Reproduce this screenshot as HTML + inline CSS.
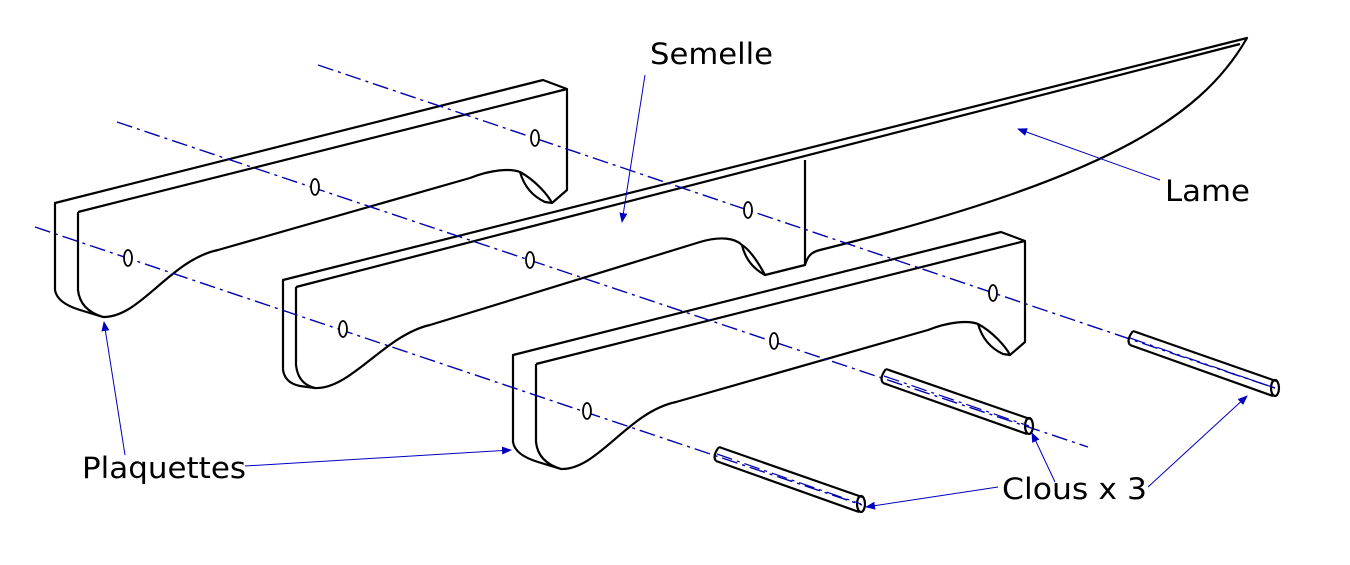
<!DOCTYPE html>
<html><head><meta charset="utf-8"><style>
html,body{margin:0;padding:0;background:#fff;}
svg{display:block;}
text{font-family:"DejaVu Sans","Liberation Sans",sans-serif;font-size:29px;fill:#000;}
</style></head><body>
<svg width="1350" height="565" viewBox="0 0 1350 565" xmlns="http://www.w3.org/2000/svg">
<defs>
<marker id="ar" markerWidth="10" markerHeight="8" refX="9" refY="4" orient="auto" markerUnits="userSpaceOnUse">
<path d="M0,0 L10,4 L0,8 z" fill="#0000c0"/></marker>
<g id="plaq" fill="#fff" stroke="#000" stroke-width="2.2" stroke-linejoin="round">
<path d="M55,203 L543,80 L567,89 L567,190 L552,203 C548,195 535,180 520,172 C510,168 490,170 470,178 L218,250 C170,260 140,318 103,317 L80,310 Q57,303 55,290 Z"/>
<path d="M78,212 L567,89" fill="none"/>
<path d="M78,212 L78,290 Q80,310 103,317" fill="none"/>
<path d="M520,172 C524,186 532,196 545,202 L552,203" fill="none"/>
</g>
</defs>

<use href="#plaq"/>

<g fill="#fff" stroke="#000" stroke-width="2.2" stroke-linejoin="round">
<path d="M283,280 L1247,38 C1200,120 1100,180 820,250 C812,252 808,255 805,265 L765,275 C758,262 750,250 742,245 C735,238 720,236 700,242 L430,325 C385,335 350,390 315,388 L300,386 Q285,383 283,370 Z"/>
<path d="M296,287 L1240,44" fill="none"/>
<path d="M296,287 L296,365 Q298,384 315,388" fill="none"/>
<path d="M805,160 L805,265" fill="none"/>
<path d="M742,245 C745,258 752,268 765,275" fill="none"/>
</g>

<use href="#plaq" transform="translate(458,152)"/>

<g stroke="#0000b0" stroke-width="1.4" fill="none" stroke-dasharray="16,5,3,5">
<line x1="318" y1="65" x2="1275" y2="388"/>
<line x1="117" y1="122" x2="1088" y2="447"/>
<line x1="35" y1="227" x2="862" y2="505"/>
</g>

<g fill="#fff" stroke="#000" stroke-width="1.8">
<ellipse cx="535" cy="138" rx="4" ry="8"/>
<ellipse cx="315" cy="187" rx="4" ry="8"/>
<ellipse cx="128" cy="258" rx="4" ry="8"/>
<ellipse cx="748" cy="210" rx="4" ry="8"/>
<ellipse cx="530" cy="260" rx="4" ry="8"/>
<ellipse cx="343" cy="329" rx="4" ry="8"/>
<ellipse cx="993" cy="293" rx="4" ry="8"/>
<ellipse cx="774" cy="341" rx="4" ry="8"/>
<ellipse cx="587" cy="411" rx="4" ry="8"/>
</g>

<g stroke="#000" stroke-width="2.2" fill="none">
<path d="M1133,331 L1276,381 M1130,345 L1273,396 M1133,331 Q1126,340 1130,345"/>
<ellipse cx="1275" cy="388" rx="4" ry="8"/>
<path d="M886,369 L1030,419 M883,383 L1027,434 M886,369 Q879,378 883,383"/>
<ellipse cx="1029" cy="426" rx="4" ry="8"/>
<path d="M719,447 L862,497 M716,461 L859,512 M719,447 Q712,456 716,461"/>
<ellipse cx="861" cy="504" rx="4" ry="8"/>
</g>
<g stroke="#0000b0" stroke-width="1.2" stroke-dasharray="16,5,3,5">
<line x1="1130" y1="338" x2="1275" y2="388"/>
<line x1="884" y1="376" x2="1029" y2="426"/>
<line x1="717" y1="454" x2="861" y2="504"/>
</g>

<g stroke="#0000c0" stroke-width="1" fill="none" marker-end="url(#ar)">
<line x1="645" y1="75" x2="622" y2="222"/>
<line x1="1160" y1="180" x2="1018" y2="129"/>
<line x1="125" y1="455" x2="104" y2="322"/>
<line x1="245" y1="466" x2="511" y2="450"/>
<line x1="998" y1="487" x2="866" y2="507"/>
<line x1="1055" y1="482" x2="1032" y2="433"/>
<line x1="1148" y1="487" x2="1247" y2="396"/>
</g>

<text x="650" y="64" textLength="123" lengthAdjust="spacingAndGlyphs">Semelle</text>
<text x="1165" y="201" textLength="85" lengthAdjust="spacingAndGlyphs">Lame</text>
<text x="82" y="478" textLength="164" lengthAdjust="spacingAndGlyphs">Plaquettes</text>
<text x="1002" y="499" textLength="145" lengthAdjust="spacingAndGlyphs">Clous x 3</text>
</svg>
</body></html>
